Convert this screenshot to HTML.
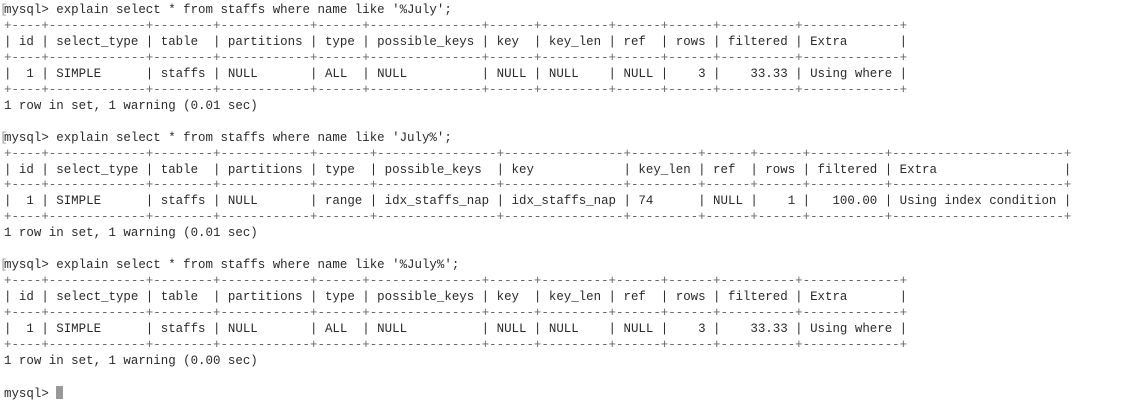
<!DOCTYPE html>
<html><head><meta charset="utf-8"><style>
html,body{margin:0;padding:0;background:#fff;width:1123px;height:401px;overflow:hidden}
pre{margin:0;padding:3px 0 0 4px;font-family:"Liberation Mono",monospace;font-size:12.45px;line-height:15.95px;color:#2a2a2a;position:relative}
.b{color:#666}
.m{position:absolute;left:0;color:#999}
.cur{display:inline-block;width:7px;height:13px;background:#999;vertical-align:-2px}
</style></head><body>
<pre><span class="m" style="top:3px">[</span><span class="m" style="top:131px">[</span><span class="m" style="top:258px">[</span>mysql&gt; explain select * from staffs where name like '%July';
<span class="b">+----+-------------+--------+------------+------+---------------+------+---------+------+------+----------+-------------+</span>
| id | select_type | table  | partitions | type | possible_keys | key  | key_len | ref  | rows | filtered | Extra       |
<span class="b">+----+-------------+--------+------------+------+---------------+------+---------+------+------+----------+-------------+</span>
|  1 | SIMPLE      | staffs | NULL       | ALL  | NULL          | NULL | NULL    | NULL |    3 |    33.33 | Using where |
<span class="b">+----+-------------+--------+------------+------+---------------+------+---------+------+------+----------+-------------+</span>
1 row in set, 1 warning (0.01 sec)

mysql&gt; explain select * from staffs where name like 'July%';
<span class="b">+----+-------------+--------+------------+-------+----------------+----------------+---------+------+------+----------+-----------------------+</span>
| id | select_type | table  | partitions | type  | possible_keys  | key            | key_len | ref  | rows | filtered | Extra                 |
<span class="b">+----+-------------+--------+------------+-------+----------------+----------------+---------+------+------+----------+-----------------------+</span>
|  1 | SIMPLE      | staffs | NULL       | range | idx_staffs_nap | idx_staffs_nap | 74      | NULL |    1 |   100.00 | Using index condition |
<span class="b">+----+-------------+--------+------------+-------+----------------+----------------+---------+------+------+----------+-----------------------+</span>
1 row in set, 1 warning (0.01 sec)

mysql&gt; explain select * from staffs where name like '%July%';
<span class="b">+----+-------------+--------+------------+------+---------------+------+---------+------+------+----------+-------------+</span>
| id | select_type | table  | partitions | type | possible_keys | key  | key_len | ref  | rows | filtered | Extra       |
<span class="b">+----+-------------+--------+------------+------+---------------+------+---------+------+------+----------+-------------+</span>
|  1 | SIMPLE      | staffs | NULL       | ALL  | NULL          | NULL | NULL    | NULL |    3 |    33.33 | Using where |
<span class="b">+----+-------------+--------+------------+------+---------------+------+---------+------+------+----------+-------------+</span>
1 row in set, 1 warning (0.00 sec)

mysql&gt; <span class="cur"></span></pre>
</body></html>
